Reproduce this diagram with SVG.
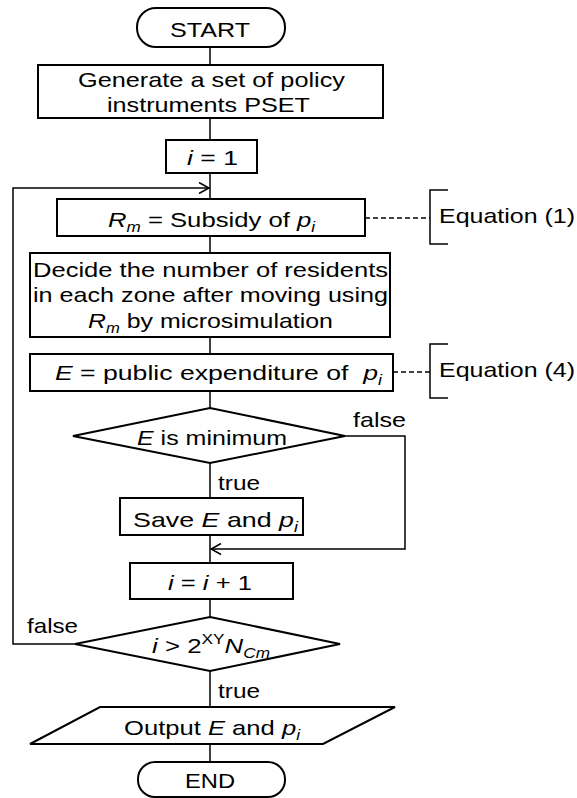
<svg xmlns="http://www.w3.org/2000/svg" width="577" height="798" viewBox="0 0 577 798">
  <style>
    .box { fill: #fff; stroke: #000; stroke-width: 2; }
    .ln { fill: none; stroke: #000; stroke-width: 1.5; }
    .dash { fill: none; stroke: #000; stroke-width: 1.5; stroke-dasharray: 5 3; }
    text { font-family: "Liberation Sans", Arial, sans-serif; font-size: 21px; fill: #000; }
    .it { font-style: italic; }
    .sub { font-size: 14px; font-style: italic; }
  </style>
  <defs>
    <marker id="open" viewBox="0 0 12 12" refX="11" refY="6" markerWidth="12" markerHeight="12" markerUnits="userSpaceOnUse" orient="auto">
      <path d="M1,0.5 L11,6 L1,11.5" fill="none" stroke="#000" stroke-width="1.6"/>
    </marker>
  </defs>

  <!-- connectors -->
  <g id="connectors">
    <path class="ln" d="M210,47 V65"/>
    <path class="ln" d="M210,118 V140"/>
    <path class="ln" d="M210,173 V199"/>
    <path class="ln" d="M210,236 V253"/>
    <path class="ln" d="M210,337 V354"/>
    <path class="ln" d="M210,391 V408"/>
    <path class="ln" d="M210,463 V498"/>
    <path class="ln" d="M210,535 V563"/>
    <path class="ln" d="M210,599 V617"/>
    <path class="ln" d="M210,671 V707"/>
    <path class="ln" d="M210,744 V762"/>
    <!-- loop back from the end test -->
    <path class="ln" d="M75,644 H13 V188 H209" marker-end="url(#open)"/>
    <!-- skip path when E is not minimum -->
    <path class="ln" d="M345,436 H405 V549 H211" marker-end="url(#open)"/>
    <!-- annotations -->
    <path class="dash" d="M365,218 H430"/>
    <path class="dash" d="M393,372 H430"/>
    <path class="ln" d="M448,190 H430 V244 H448"/>
    <path class="ln" d="M448,344 H430 V398 H448"/>
    <text x="27" y="633" textLength="51" lengthAdjust="spacingAndGlyphs">false</text>
    <text x="353" y="427" textLength="53" lengthAdjust="spacingAndGlyphs">false</text>
    <text x="218" y="490" textLength="42" lengthAdjust="spacingAndGlyphs">true</text>
    <text x="218" y="698" textLength="42" lengthAdjust="spacingAndGlyphs">true</text>
  </g>

  <g id="start">
    <rect class="box" x="137" y="8" width="148" height="39" rx="19" ry="19"/>
    <text x="170" y="37" textLength="80" lengthAdjust="spacingAndGlyphs">START</text>
  </g>

  <g id="generate">
    <rect class="box" x="38" y="65" width="345" height="53"/>
    <text x="78" y="87" textLength="267" lengthAdjust="spacingAndGlyphs">Generate a set of policy</text>
    <text x="107" y="112" textLength="203" lengthAdjust="spacingAndGlyphs">instruments PSET</text>
  </g>

  <g id="init">
    <rect class="box" x="166" y="140" width="91" height="33"/>
    <text x="187" y="165" textLength="51" lengthAdjust="spacingAndGlyphs"><tspan class="it">i</tspan> = 1</text>
  </g>

  <g id="subsidy">
    <rect class="box" x="57" y="199" width="308" height="37"/>
    <text x="108" y="227" textLength="207" lengthAdjust="spacingAndGlyphs"><tspan class="it">R</tspan><tspan class="sub" dy="5">m</tspan><tspan dy="-5"> = Subsidy of </tspan><tspan class="it">p</tspan><tspan class="sub" dy="5">i</tspan></text>
  </g>

  <g id="eq1">
    <text x="439" y="223" textLength="136" lengthAdjust="spacingAndGlyphs">Equation (1)</text>
  </g>

  <g id="decide">
    <rect class="box" x="30" y="253" width="360" height="84"/>
    <text x="33" y="277" textLength="355" lengthAdjust="spacingAndGlyphs">Decide the number of residents</text>
    <text x="33" y="302" textLength="355" lengthAdjust="spacingAndGlyphs">in each zone after moving using</text>
    <text x="88" y="328" textLength="245" lengthAdjust="spacingAndGlyphs"><tspan class="it">R</tspan><tspan class="sub" dy="5">m</tspan><tspan dy="-5"> by microsimulation</tspan></text>
  </g>

  <g id="expenditure">
    <rect class="box" x="30" y="354" width="363" height="37"/>
    <text x="55" y="380" textLength="327" lengthAdjust="spacingAndGlyphs" xml:space="preserve"><tspan class="it">E</tspan> = public expenditure of  <tspan class="it">p</tspan><tspan class="sub" dy="5">i</tspan></text>
  </g>

  <g id="eq4">
    <text x="439" y="377" textLength="136" lengthAdjust="spacingAndGlyphs">Equation (4)</text>
  </g>

  <g id="isMinimum">
    <polygon class="box" points="210,408 345,436 210,463 73,436"/>
    <text x="137" y="445" textLength="150" lengthAdjust="spacingAndGlyphs"><tspan class="it">E</tspan> is minimum</text>
  </g>

  <g id="save">
    <rect class="box" x="120" y="498" width="183" height="37"/>
    <text x="133" y="527" textLength="165" lengthAdjust="spacingAndGlyphs">Save <tspan class="it">E</tspan> and <tspan class="it">p</tspan><tspan class="sub" dy="5">i</tspan></text>
  </g>

  <g id="increment">
    <rect class="box" x="130" y="563" width="163" height="36"/>
    <text x="168" y="590" textLength="84" lengthAdjust="spacingAndGlyphs"><tspan class="it">i</tspan> = <tspan class="it">i</tspan> + 1</text>
  </g>

  <g id="endTest">
    <polygon class="box" points="210,617 340,644 210,671 75,644"/>
    <text x="152" y="653" textLength="118" lengthAdjust="spacingAndGlyphs"><tspan class="it">i</tspan> &gt; 2<tspan font-size="14" dy="-9">XY</tspan><tspan class="it" dy="9">N</tspan><tspan class="sub" dy="5">Cm</tspan></text>
  </g>

  <g id="output">
    <polygon class="box" points="100,707 395,707 323,744 30,744"/>
    <text x="124" y="735" textLength="176" lengthAdjust="spacingAndGlyphs">Output <tspan class="it">E</tspan> and <tspan class="it">p</tspan><tspan class="sub" dy="5">i</tspan></text>
  </g>

  <g id="end">
    <rect class="box" x="138" y="762" width="147" height="35" rx="17" ry="17"/>
    <text x="185" y="788" textLength="50" lengthAdjust="spacingAndGlyphs">END</text>
  </g>
</svg>
